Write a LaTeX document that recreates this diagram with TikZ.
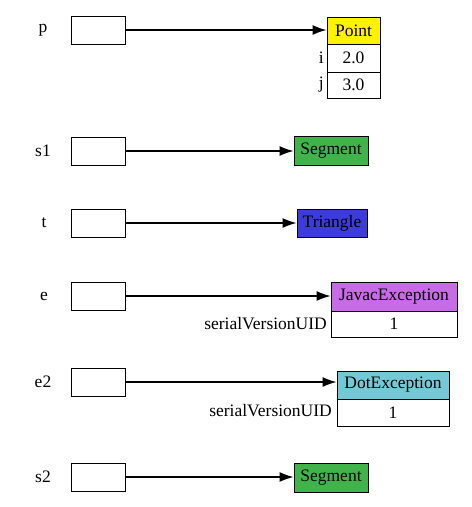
\documentclass[tikz,border=0pt]{standalone}
\usepackage{fontspec}
\setmainfont{LiberationSerif}[Extension=.ttf, UprightFont=*-Regular, BoldFont=*-Bold, ItalicFont=*-Italic, BoldItalicFont=*-BoldItalic]
\usetikzlibrary{arrows.meta}
\definecolor{cgreen}{RGB}{64,180,74}
\definecolor{cblue}{RGB}{60,60,220}
\definecolor{cpurple}{RGB}{200,107,232}
\definecolor{ccyan}{RGB}{116,201,214}
\tikzset{
  every node/.style={font=\fontsize{17.5}{19}\selectfont},
  varbox/.style={draw, line width=1pt, minimum width=54pt, minimum height=28pt, inner sep=0pt},
  objbox/.style={draw, line width=1pt, minimum height=28pt, inner sep=0pt},
  vlabel/.style={inner sep=0pt},
  flabel/.style={inner sep=0pt, anchor=east},
  ref/.style={line width=1.2pt, -{Latex[length=14pt,width=10pt]}},
}
\begin{document}
\begin{tikzpicture}[x=1pt,y=-1pt]
\useasboundingbox (0,0) rectangle (472,507);
% p
\node[vlabel] (lp) at (43,30) {p};
\node[varbox] (vp) at (98,30) {};
\node[objbox, fill=yellow, minimum width=53pt, minimum height=27pt] (pointH) at (353.5,30.5) {Point};
\node[objbox, minimum width=53pt, minimum height=28pt] (pointI) at (353.5,58) {2.0};
\node[objbox, minimum width=53pt, minimum height=26pt] (pointJ) at (353.5,85) {3.0};
\node[flabel] (li) at (324,58) {i};
\node[flabel] (lj) at (324,85) {j};
\draw[ref] (vp.east) -- (vp.east -| pointH.west);
% s1
\node[vlabel] (ls1) at (43,151) {s1};
\node[varbox] (vs1) at (98,151) {};
\node[objbox, fill=cgreen, minimum width=74pt, minimum height=29pt] (seg1) at (331,151) {Segment};
\draw[ref] (vs1.east) -- (vs1.east -| seg1.west);
% t
\node[vlabel] (lt) at (44,223) {t};
\node[varbox] (vt) at (98,223) {};
\node[objbox, fill=cblue, minimum width=70pt, minimum height=28pt] (tri) at (332,223) {Triangle};
\draw[ref] (vt.east) -- (vt.east -| tri.west);
% e
\node[vlabel] (le) at (44,296) {e};
\node[varbox] (ve) at (98,296) {};
\node[objbox, fill=cpurple, minimum width=126pt, minimum height=29pt] (javH) at (394,296.5) {JavacException};
\node[objbox, minimum width=126pt, minimum height=26pt] (javS) at (394,324) {1};
\node[flabel] (lsv1) at (327,324) {serialVersionUID};
\draw[ref] (ve.east) -- (ve.east -| javH.west);
% e2
\node[vlabel] (le2) at (43,382) {e2};
\node[varbox] (ve2) at (98,382) {};
\node[objbox, fill=ccyan, minimum width=112pt, minimum height=28pt] (dotH) at (393,385) {DotException};
\node[objbox, minimum width=112pt, minimum height=27pt] (dotS) at (393,412.5) {1};
\node[flabel] (lsv2) at (332,411) {serialVersionUID};
\draw[ref] (ve2.east) -- (ve2.east -| dotH.west);
% s2
\node[vlabel] (ls2) at (43,477) {s2};
\node[varbox] (vs2) at (98,477) {};
\node[objbox, fill=cgreen, minimum width=74pt, minimum height=29pt] (seg2) at (331,477.5) {Segment};
\draw[ref] (vs2.east) -- (vs2.east -| seg2.west);
\end{tikzpicture}
\end{document}
